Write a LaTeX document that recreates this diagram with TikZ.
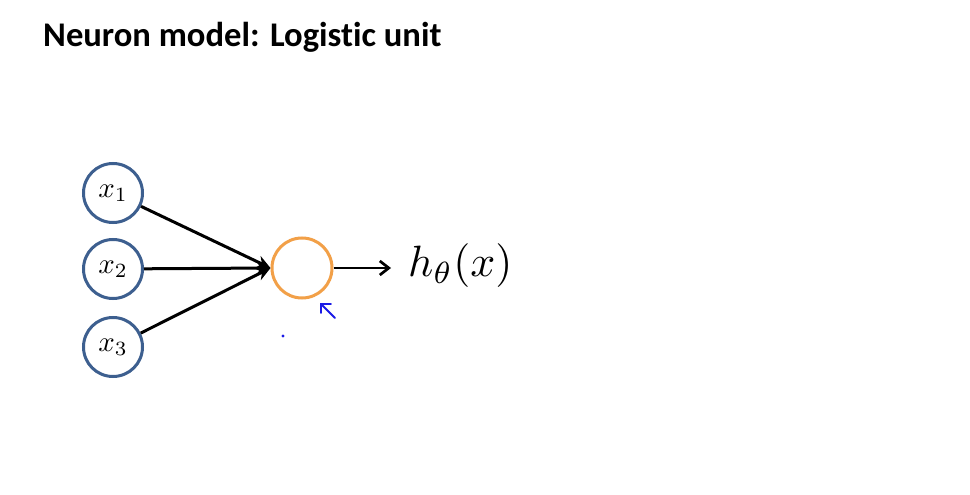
\documentclass[tikz,border=0pt]{standalone}
\usepackage{graphicx}
\usepackage{fontspec}
\newfontfamily\titlefont[Ligatures={NoCommon}]{Carlito}
\usetikzlibrary{arrows.meta}
\definecolor{inblue}{HTML}{3D5F8F}
\definecolor{unitorange}{HTML}{F2A048}
\definecolor{penblue}{HTML}{1A1AE6}
\begin{document}
\begin{tikzpicture}[x=1bp,y=-1bp,
  inputnode/.style={circle,draw=inblue,line width=3bp,minimum size=59bp,inner sep=0pt},
  unitnode/.style={circle,draw=unitorange,line width=3bp,minimum size=60bp,inner sep=0pt},
  conn/.style={line width=3bp,-{Stealth[length=14bp,width=13bp]}},
  outconn/.style={line width=2.7bp,-{Straight Barb[length=9bp,width=14bp,line width=2.7bp]}},
  pen/.style={penblue,line width=1.9bp,line cap=round}]
\useasboundingbox (0,0) rectangle (970,495);
\fill[white] (0,0) rectangle (970,495);
\node[anchor=base west,inner sep=0pt,font=\titlefont\bfseries\fontsize{34.6bp}{40bp}\selectfont] (title) at (43,47) {Neuron model: Logistic unit};
\node[inputnode] (x1) at (113,193) {\scalebox{2.9}{$x_1$}};
\node[inputnode] (x2) at (113,269) {\scalebox{2.9}{$x_2$}};
\node[inputnode] (x3) at (113,347) {\scalebox{2.9}{$x_3$}};
\node[unitnode] (u) at (302,268) {};
\coordinate (out) at (391,268);
\node[anchor=west,inner sep=0pt] (h) at (408,266) {\scalebox{4.4}{$h_\theta(x)$}};
\draw[conn] (x1) -- (u.west);
\draw[conn] (x2) -- (u.west);
\draw[conn] (x3) -- (u.west);
\draw[outconn] (u) -- (out);
% pen annotations
\coordinate (pa) at (335,318);
\coordinate (pb) at (321,304);
\draw[pen] (pa) -- (pb);
\draw[pen] (321,313) -- (pb) -- (331,304);
\fill[penblue] (283,336) circle (1.6bp);
\end{tikzpicture}
\end{document}
